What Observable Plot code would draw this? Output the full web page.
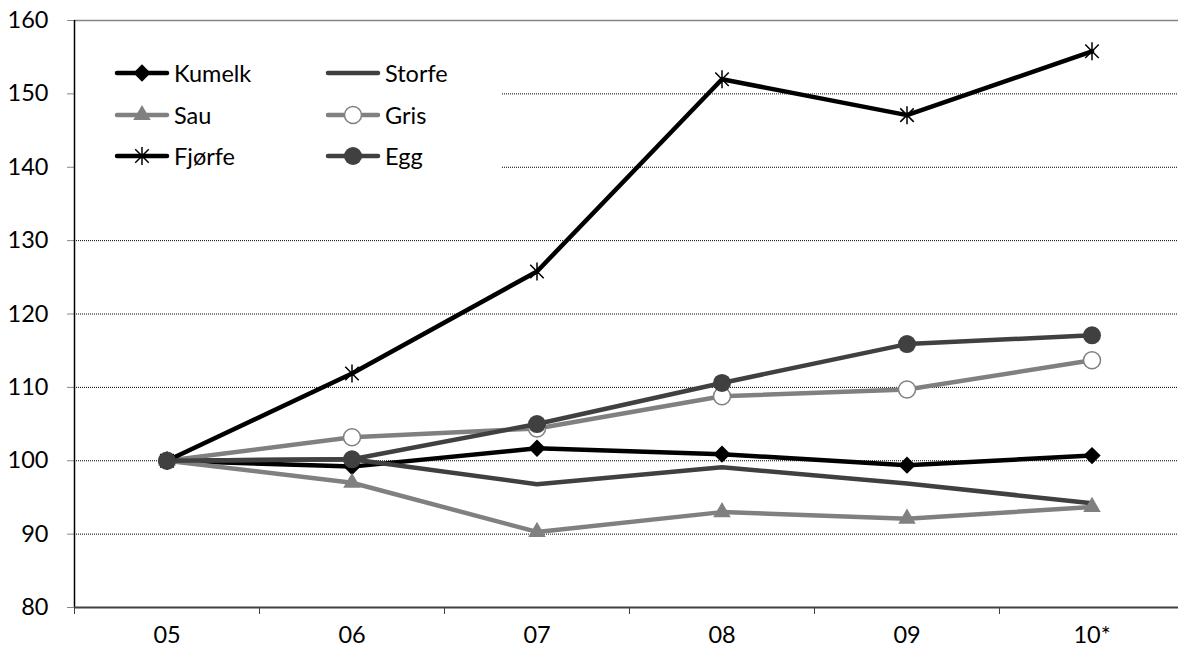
<!DOCTYPE html>
<html>
<head>
<meta charset="utf-8">
<script src="https://cdn.jsdelivr.net/npm/d3@7"></script>
<script src="https://cdn.jsdelivr.net/npm/@observablehq/plot@0.6"></script>
<style>
  html, body { margin: 0; padding: 0; background: #fff; overflow: hidden; }
  #wrap { position: relative; width: 1178px; height: 660px; font-family: Lato, "DejaVu Sans", sans-serif; }
  #legend { position: absolute; left: 76px; top: 44px; width: 426px; height: 146px; background: #fff; }
  .item { position: absolute; height: 30px; display: flex; align-items: center; }
  .item span { font-size: 23.5px; color: #000; margin-left: 6px; line-height: 30px; }
</style>
</head>
<body>
<div id="wrap"><div id="legend"></div></div>
<script>
// Categories (x axis tick labels)
const years = ["05", "06", "07", "08", "09", "10*"];
// Series values (index, 2005 = 100)
const kumelk = [100, 99.2, 101.7, 100.9, 99.4, 100.7];
const storfe = [100, 100.2, 96.8, 99.1, 96.9, 94.2];
const sau    = [100, 97.0, 90.3, 93.0, 92.1, 93.7];
const gris   = [100, 103.2, 104.4, 108.8, 109.7, 113.7];
const fjorfe = [100, 111.9, 125.8, 152.0, 147.1, 155.8];
const egg    = [100, 100.2, 105.0, 110.6, 115.9, 117.1];
// Y tick labels
const yTicks = [80, 90, 100, 110, 120, 130, 140, 150, 160];

// Excel-like star marker: X plus vertical bar
const star = {
  draw(ctx, size) {
    const r = Math.sqrt(size / Math.PI);
    const d = r * 0.75;
    ctx.moveTo(0, -r); ctx.lineTo(0, r);
    ctx.moveTo(-d, -d); ctx.lineTo(d, d);
    ctx.moveTo(-d, d); ctx.lineTo(d, -d);
  }
};

const series = [
  {name: "Kumelk", values: kumelk, color: "#000000", symbol: "diamond2", r: 7.8, fill: "#000000", mstroke: "none", msw: 0},
  {name: "Storfe", values: storfe, color: "#404040", symbol: null},
  {name: "Sau", values: sau, color: "#808080", symbol: "triangle", r: 6.5, fill: "#808080", mstroke: "none", msw: 0},
  {name: "Gris", values: gris, color: "#808080", symbol: "circle", r: 8.5, fill: "#ffffff", mstroke: "#808080", msw: 1.5},
  {name: "Fjørfe", values: fjorfe, color: "#000000", symbol: star, r: 9, fill: "none", mstroke: "#000000", msw: 1.5},
  {name: "Egg", values: egg, color: "#404040", symbol: "circle", r: 9, fill: "#404040", mstroke: "none", msw: 0}
];

const marks = [
  Plot.ruleY([90, 100, 110, 120, 130, 140, 150], {stroke: "#000", strokeWidth: 1, strokeDasharray: "1,1"}),
  Plot.ruleY([160], {stroke: "#868686", strokeWidth: 1.5}),
  Plot.axisY({ticks: yTicks, tickSize: 7, tickPadding: 19, stroke: "#868686", fill: "#000", fontSize: 23.5, label: null}),
  Plot.axisX({ticks: d3.range(-0.5, 6, 1), tickSize: 7, tickFormat: () => "", stroke: "#404040", label: null}),
  Plot.axisX({ticks: d3.range(0, 6), tickSize: 0, tickPadding: 19, tickFormat: i => years[i], fill: "#000", fontSize: 23.5, label: null}),
  Plot.ruleX([-0.5], {stroke: "#000", strokeWidth: 1.5}),
  Plot.ruleY([80], {stroke: "#404040", strokeWidth: 2})
];

for (const s of series) {
  const data = s.values.map((v, i) => ({i, v}));
  marks.push(Plot.lineY(data, {x: "i", y: "v", stroke: s.color, strokeWidth: 4.5, strokeLinejoin: "round", curve: "linear"}));
  if (s.symbol) {
    marks.push(Plot.dot(data, {x: "i", y: "v", symbol: () => s.symbol, r: s.r, fill: s.fill, stroke: s.mstroke, strokeWidth: s.msw}));
  }
}

const chart = Plot.plot({
  width: 1178,
  height: 660,
  marginLeft: 74,
  marginRight: 0,
  marginTop: 20,
  marginBottom: 53,
  style: {fontFamily: "Lato, 'DejaVu Sans', sans-serif", fontSize: "23.5px", color: "#000", background: "#fff"},
  x: {type: "linear", domain: [-0.5, 5.5], range: [74, 1184], label: null},
  y: {domain: [80, 160], label: null},
  symbol: {type: "identity"},
  marks
});
const wrap = document.getElementById("wrap");
wrap.insertBefore(chart, wrap.firstChild);

// Legend (HTML overlay with white background)
const legend = document.getElementById("legend");
const rowTops = [14, 56, 97];
const colLefts = [40, 251];
const symbolMap = {diamond2: d3.symbolDiamond2, triangle: d3.symbolTriangle, circle: d3.symbolCircle};
series.forEach((s, k) => {
  const col = k % 2, row = Math.floor(k / 2);
  const item = document.createElement("div");
  item.className = "item";
  item.style.left = colLefts[col] + "px";
  item.style.top = rowTops[row] + "px";
  let svg = `<svg width="52" height="30" style="overflow:visible"><line x1="1" x2="51" y1="15" y2="15" stroke="${s.color}" stroke-width="4.5" stroke-linecap="round"/>`;
  if (s.symbol) {
    const t = typeof s.symbol === "string" ? symbolMap[s.symbol] : s.symbol;
    const path = d3.symbol().type(t).size(Math.PI * s.r * s.r)();
    svg += `<path transform="translate(26,15)" d="${path}" fill="${s.fill}" stroke="${s.mstroke}" stroke-width="${s.msw}"/>`;
  }
  svg += `</svg>`;
  item.innerHTML = svg + `<span>${s.name}</span>`;
  legend.appendChild(item);
});
</script>
</body>
</html>
